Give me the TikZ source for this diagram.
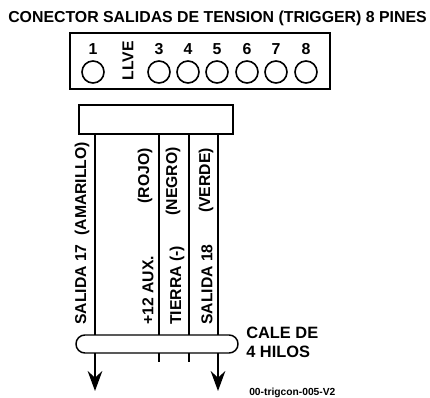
\documentclass[tikz,border=0pt]{standalone}
\usepackage{fontspec}
\setmainfont{Liberation Sans}
\usetikzlibrary{arrows.meta}
\tikzset{
  box/.style={draw,line width=1.3pt,inner sep=0pt,minimum width=0pt},
  pin/.style={circle,draw,line width=1.2pt,minimum size=16.5pt,inner sep=0pt},
  num/.style={font=\fontsize{11.9}{14}\selectfont\bfseries,inner sep=0pt},
  vtxt/.style={font=\fontsize{11.8}{14}\selectfont\bfseries,inner sep=0pt,rotate=90},
  lbl/.style={font=\fontsize{12.3}{14}\selectfont\bfseries,inner sep=0pt,anchor=west},
  wire/.style={line width=1.2pt},
  tip/.style={-{Stealth[length=15pt,width=11pt,inset=5pt]}}
}
\begin{document}
\begin{tikzpicture}[x=0.75pt,y=-0.75pt]
\useasboundingbox (0,0) rectangle (430,398);
\node[anchor=west,inner sep=0pt,font=\fontsize{11.9}{14}\selectfont\bfseries] (title) at (8,18.5) {CONECTOR SALIDAS DE TENSION (TRIGGER) 8 PINES};
\draw[box] (70,33) rectangle (330,89);
\foreach \n/\x in {1/93,3/159,4/188,5/217,6/247,7/276,8/306}{
  \node[pin] (p\n) at (\x,72) {};
  \node[num] (n\n) at (\x,49) {\n};
}
\node[vtxt] (llve) at (128,61) {LLVE};
\draw[box] (79,105) rectangle (233,134);
\coordinate (ta) at (95,134); \coordinate (tb) at (159,134); \coordinate (tc) at (189,134); \coordinate (td) at (218,134);
\coordinate (ba) at (95,335); \coordinate (bb) at (159,335); \coordinate (bc) at (189,335); \coordinate (bd) at (218,335);
\draw[wire] (ta)--(ba) (tb)--(bb) (tc)--(bc) (td)--(bd);
\draw[line width=1.1pt,rounded corners=8.9*0.75pt] (76,335) rectangle (238,353);
\coordinate (sa) at (95,353); \coordinate (sb) at (159,353); \coordinate (sc) at (189,353); \coordinate (sd) at (218,353);
\coordinate (ea) at (95,391); \coordinate (eb) at (159,362); \coordinate (ec) at (189,362); \coordinate (ed) at (218,391);
\draw[wire,tip] (sa)--(ea);
\draw[wire,tip] (sd)--(ed);
\draw[wire] (sb)--(eb) (sc)--(ec);
\node[vtxt,anchor=west] (t1) at (82,325) {SALIDA 17~~(AMARILLO)};
\node[vtxt,anchor=west] (t2) at (148,325) {+12 AUX.};
\node[vtxt,anchor=east] (t3) at (145,148) {(ROJO)};
\node[vtxt,anchor=west] (t4) at (177,325) {TIERRA (-)};
\node[vtxt,anchor=east] (t5) at (173,147) {(NEGRO)};
\node[vtxt,anchor=west] (t6) at (207,325) {SALIDA 18};
\node[vtxt,anchor=east] (t7) at (206,148) {(VERDE)};
\node[lbl] (c1) at (246,333) {CALE DE};
\node[lbl] (c2) at (246,352) {4 HILOS};
\node[anchor=west,inner sep=0pt,font=\fontsize{7.7}{9}\selectfont\bfseries] (code) at (249,393) {00-trigcon-005-V2};
\end{tikzpicture}
\end{document}
